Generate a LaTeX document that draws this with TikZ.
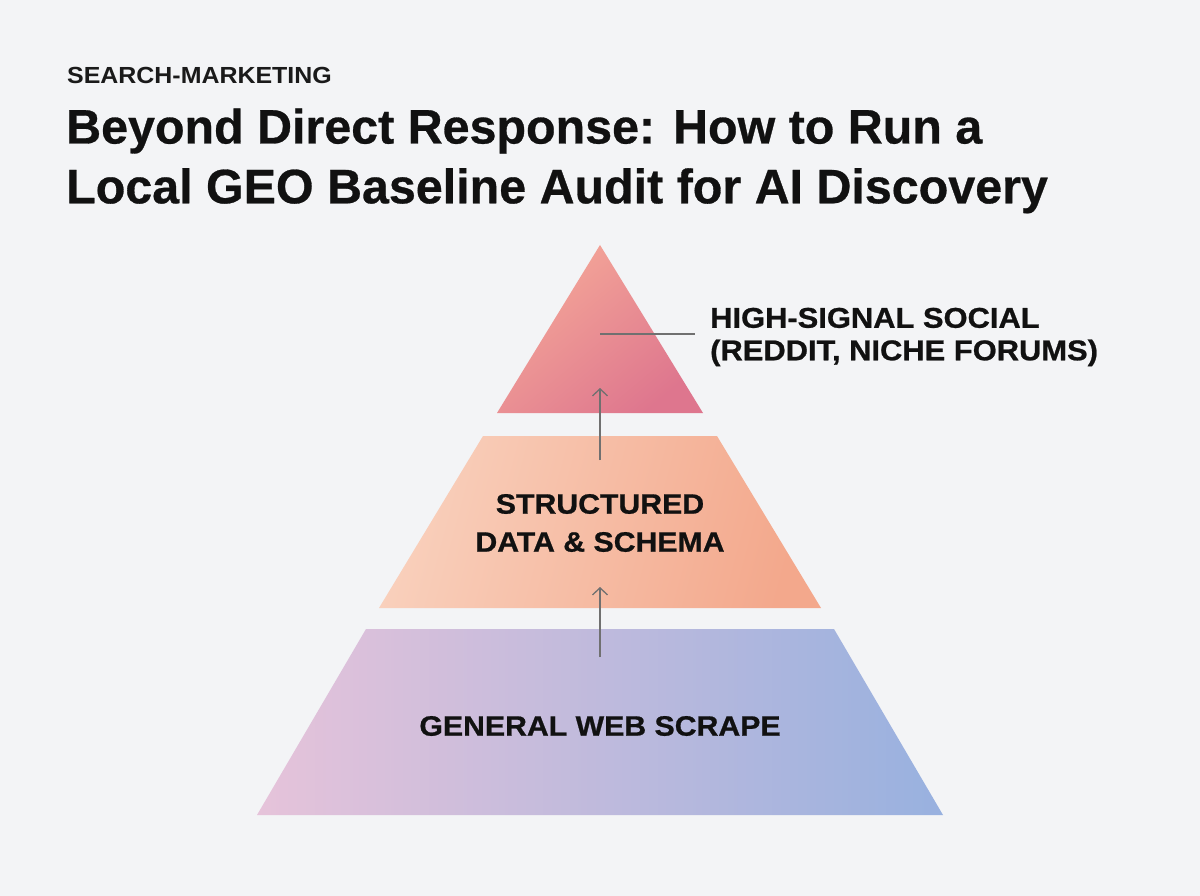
\documentclass[tikz,border=0pt]{standalone}
\usepackage{fontspec}
\setmainfont{Liberation Sans}
\newfontfamily\titlefont{Liberation Sans}[FakeBold=0.6]
\newfontfamily\labelfont{Liberation Sans}[FakeStretch=1.08,FakeBold=0.8]
\newfontfamily\kickerfont{Liberation Sans}[FakeStretch=1.07]
\usetikzlibrary{arrows.meta}
\definecolor{bg}{HTML}{F3F4F6}
\definecolor{topA}{HTML}{F5A898}
\definecolor{topB}{HTML}{DE768E}
\definecolor{midA}{HTML}{F9D0BC}
\definecolor{midB}{HTML}{F3A88C}
\definecolor{botA}{HTML}{E6C3DA}
\definecolor{botB}{HTML}{98B1DF}
\definecolor{ink}{HTML}{111111}
\definecolor{kickink}{HTML}{1A1A1A}
\definecolor{leadgray}{HTML}{707070}
\tikzset{
  tierlabel/.style={font=\labelfont\bfseries\fontsize{28}{38}\selectfont, text=ink, align=center, inner sep=0pt},
  sidelabel/.style={font=\labelfont\bfseries\fontsize{28.6}{32.5}\selectfont, text=ink, align=left, inner sep=0pt, anchor=west},
  titleline/.style={font=\titlefont\bfseries\fontsize{48.4}{60}\selectfont, text=ink, anchor=base west, inner sep=0pt},
  leader/.style={draw=leadgray, line width=1.3pt},
  uparrow/.style={draw=leadgray, line width=1.3pt, -{Straight Barb[length=7pt,width=15pt,line width=1.3pt]}},
}
\begin{document}
\begin{tikzpicture}[x=1pt,y=-1pt]
\useasboundingbox (0,0) rectangle (1200,896);
\fill[bg] (0,0) rectangle (1200,896);

% header
\node[font=\kickerfont\bfseries\fontsize{23.3}{24}\selectfont, text=kickink, anchor=base west, inner sep=0pt] (kicker) at (67,83.3) {SEARCH-MARKETING};
\node[titleline] (title1) at (66,143.5) {Beyond Direct Response: How to Run a};
\node[titleline] (title2) at (66,203.3) {Local GEO Baseline Audit for AI Discovery};

% pyramid tiers
\shade[top color=topA, bottom color=topB, shading angle=40]
  (600,245) -- (703,413) -- (497,413) -- cycle;
\shade[top color=midA, bottom color=midB, shading angle=75]
  (483,436) -- (717,436) -- (821,608) -- (379,608) -- cycle;
\shade[left color=botA, right color=botB]
  (366,629) -- (834,629) -- (943,815) -- (257,815) -- cycle;

% labels
\node[tierlabel] (structured) at (600,523) {STRUCTURED\\DATA \& SCHEMA};
\node[tierlabel] (general) at (600,726) {GENERAL WEB SCRAPE};
\node[sidelabel] (social) at (710,337) {HIGH-SIGNAL SOCIAL\\(REDDIT, NICHE FORUMS)};

% leader and arrows
\coordinate (leadstart) at (600,334);
\coordinate (leadend) at (695,334);
\draw[leader] (leadstart) -- (leadend);
\coordinate (arrAfrom) at (600,460);
\coordinate (arrAto) at (600,388);
\draw[uparrow] (arrAfrom) -- (arrAto);
\coordinate (arrBfrom) at (600,657);
\coordinate (arrBto) at (600,587);
\draw[uparrow] (arrBfrom) -- (arrBto);
\end{tikzpicture}
\end{document}
